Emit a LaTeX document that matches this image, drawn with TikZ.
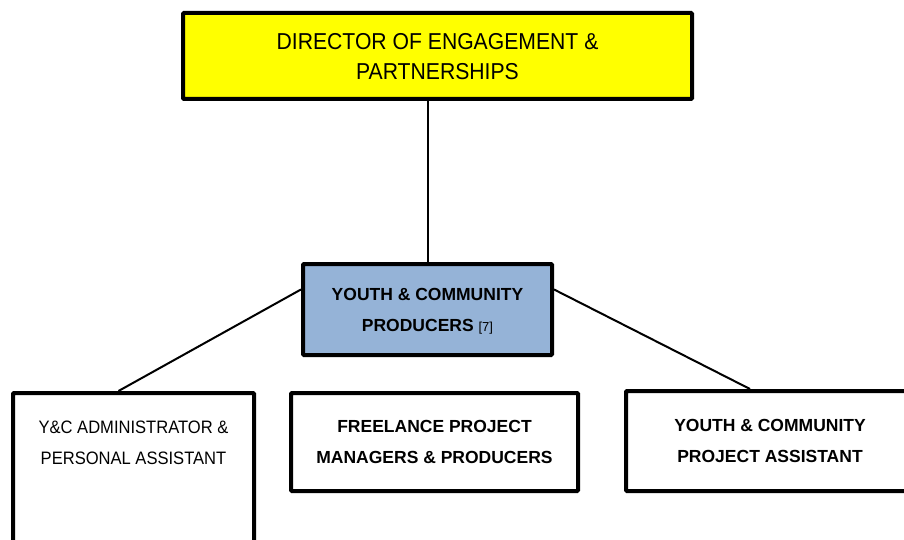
\documentclass[tikz,border=0pt]{standalone}
\usepackage{fontspec}
\setmainfont{Liberation Sans}
\newfontfamily\narrowsans[FakeStretch=0.92]{Liberation Sans}
\usepackage{tikz}
\usetikzlibrary{positioning}

\definecolor{headyellow}{RGB}{255,255,0}
\definecolor{teamblue}{RGB}{149,179,215}

\begin{document}
\begin{tikzpicture}[x=1pt,y=-1pt,
    postbox/.style={draw=black,line width=4pt,rounded corners=1pt,align=center,inner sep=0pt},
    postname/.style={font=\narrowsans\fontsize{18}{31}\selectfont},
    postbold/.style={font=\fontsize{17.5}{31}\selectfont\bfseries},
    link/.style={draw=black,line width=2pt}]
  \clip (0,0) rectangle (904,540);

  %% top
  \node[postbox,fill=headyellow,minimum width=509pt,minimum height=86pt,
        text depth=-8pt,font=\narrowsans\fontsize{23}{30}\selectfont] (director) at (437.5,56)
    {DIRECTOR OF ENGAGEMENT \&\\PARTNERSHIPS};

  %% team
  \node[postbox,fill=teamblue,postbold,minimum width=249pt,minimum height=91pt,
        text depth=-9pt] (producers) at (427.5,309.5)
    {YOUTH \& COMMUNITY\\PRODUCERS {\mdseries\fontsize{13}{31}\selectfont[7]}};

  %% bottom row
  \node[postbox,postname,minimum width=241pt,anchor=north,text depth=100pt,
        inner ysep=28pt] (admin) at (133.5,391)
    {Y\&C ADMINISTRATOR \&\\PERSONAL ASSISTANT};
  \node[postbox,postbold,minimum width=287pt,minimum height=98pt]
    (freelance) at (434.5,442)
    {FREELANCE PROJECT\\MANAGERS \& PRODUCERS};
  \node[postbox,postbold,minimum width=288pt,minimum height=100pt]
    (assistant) at (770,441)
    {YOUTH \& COMMUNITY\\PROJECT ASSISTANT};

  % connectors
  \draw[link] (producers.north) -- (producers.north |- director.south);
  \draw[link] (producers.171) -- ([xshift=-15pt]admin.north);
  \draw[link] (producers.9) -- ([xshift=-20pt]assistant.north);
\end{tikzpicture}
\end{document}
